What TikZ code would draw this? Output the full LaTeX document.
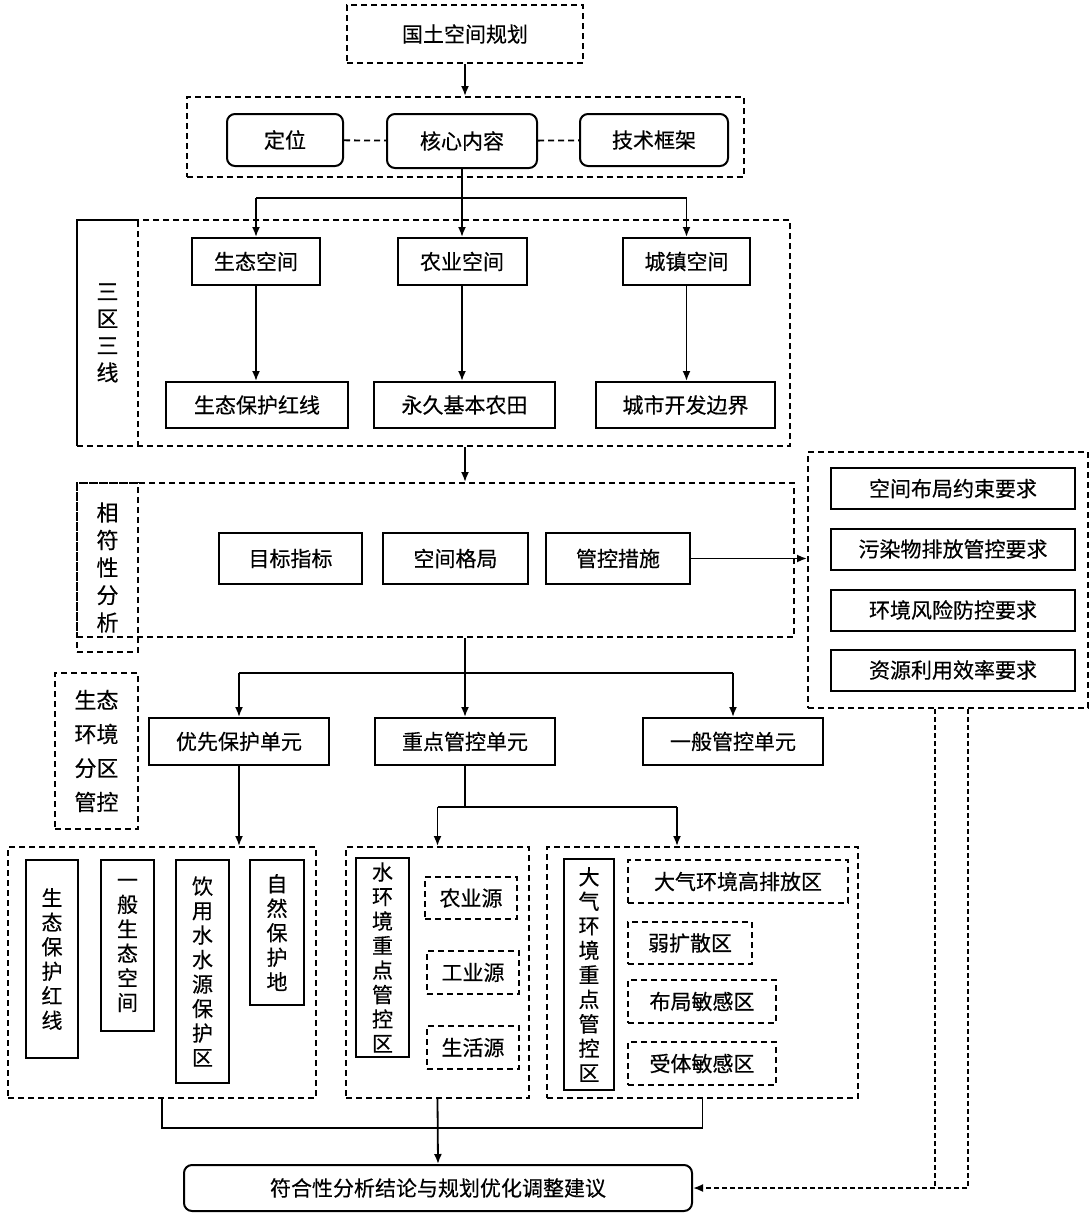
\documentclass[tikz,border=0pt]{standalone}
\usepackage{fontspec}
\setmainfont{Noto Sans CJK SC}[FakeBold=0.4]
\usetikzlibrary{arrows.meta}

\begin{document}
\begin{tikzpicture}[x=1pt,y=-1pt,
	every node/.style={font=\fontsize{21}{24}\selectfont, inner sep=0pt, align=center},
	box/.style={draw, line width=2pt, minimum height=47pt},
	rbox/.style={box, rounded corners=8pt},
	dbox/.style={draw, line width=2pt, dash pattern=on 6pt off 4pt},
	vbox/.style={draw, line width=2pt, anchor=north, font=\fontsize{21}{24.5}\selectfont},
	link/.style={line width=1.8pt},
	arr/.style={link, -{Latex[length=10pt,width=8pt]}}
	]
	\useasboundingbox (0,0) rectangle (1092,1221);

	\node[dbox, minimum width=236pt, minimum height=58pt] (plan) at (465,34) {国土空间规划};
	\node[dbox, minimum width=557pt, minimum height=80pt] (core) at (465,137) {};
	\node[rbox, minimum width=116pt, minimum height=52pt] (pos) at (285,140) {定位};
	\node[rbox, minimum width=150pt, minimum height=54pt] (cont) at (462,141) {核心内容};
	\node[rbox, minimum width=148pt, minimum height=52pt] (tech) at (654,140) {技术框架};

	\node[dbox, minimum width=713pt, minimum height=226pt] (zone) at (433.5,333) {};
	\node[dbox, minimum width=61pt, minimum height=226pt, font=\fontsize{22}{27}\selectfont] (zonel) at (107.5,333) {三\\区\\三\\线};
	\node[box, minimum width=128pt] (eco) at (256,261.5) {生态空间};
	\node[box, minimum width=129pt] (agr) at (462,261.5) {农业空间};
	\node[box, minimum width=127pt] (urb) at (686.5,261.5) {城镇空间};
	\node[box, minimum width=182pt, minimum height=46pt] (redl) at (257,405) {生态保护红线};
	\node[box, minimum width=181pt, minimum height=46pt] (farm) at (464.5,405) {永久基本农田};
	\node[box, minimum width=179pt, minimum height=46pt] (bound) at (685.5,405) {城市开发边界};

	\node[dbox, minimum width=717pt, minimum height=154pt] (fit) at (435.5,560) {};
	\node[dbox, minimum width=61pt, minimum height=169pt, font=\fontsize{22}{27.5}\selectfont] (fitl) at (107.5,567.5) {相\\符\\性\\分\\析};
	\node[box, minimum width=143pt, minimum height=51pt] (goal) at (290.5,558.5) {目标指标};
	\node[box, minimum width=145pt, minimum height=51pt] (layout) at (455.5,558.5) {空间格局};
	\node[box, minimum width=144pt, minimum height=51pt] (ctrl) at (618,558.5) {管控措施};

	\node[dbox, minimum width=280pt, minimum height=256pt] (req) at (948,580) {};
	\node[box, minimum width=244pt, minimum height=41pt] (req1) at (953,488.5) {空间布局约束要求};
	\node[box, minimum width=244pt, minimum height=41pt] (req2) at (953,549) {污染物排放管控要求};
	\node[box, minimum width=244pt, minimum height=41pt] (req3) at (953,610) {环境风险防控要求};
	\node[box, minimum width=244pt, minimum height=41pt] (req4) at (953,670) {资源利用效率要求};

	\node[dbox, minimum width=83pt, minimum height=156pt, font=\fontsize{22}{34}\selectfont] (envl) at (96.5,751) {生态\\环境\\分区\\管控};
	\node[box, minimum width=180pt] (prio) at (239,741.5) {优先保护单元};
	\node[box, minimum width=180pt] (key) at (465,741.5) {重点管控单元};
	\node[box, minimum width=180pt] (gen) at (733,741.5) {一般管控单元};

	\node[dbox, minimum width=308pt, minimum height=251pt] (grpa) at (162,972.5) {};
	\node[dbox, minimum width=183pt, minimum height=251pt] (grpb) at (437.5,972.5) {};
	\node[dbox, minimum width=311pt, minimum height=251pt] (grpc) at (702.5,972.5) {};

	\node[vbox, minimum width=52pt, minimum height=198pt] (a1) at (52,859) {生\\态\\保\\护\\红\\线};
	\node[vbox, minimum width=53pt, minimum height=171pt] (a2) at (127.5,859) {一\\般\\生\\态\\空\\间};
	\node[vbox, minimum width=53pt, minimum height=223pt] (a3) at (202.5,859) {饮\\用\\水\\水\\源\\保\\护\\区};
	\node[vbox, minimum width=54pt, minimum height=145pt] (a4) at (277,859) {自\\然\\保\\护\\地};

	\node[vbox, minimum width=53pt, minimum height=199pt] (b1) at (382.5,857) {水\\环\\境\\重\\点\\管\\控\\区};
	\node[dbox, minimum width=92pt, minimum height=42pt] (b2) at (471,898) {农业源};
	\node[dbox, minimum width=92pt, minimum height=43pt] (b3) at (473,972.5) {工业源};
	\node[dbox, minimum width=92pt, minimum height=43pt] (b4) at (473,1047.5) {生活源};

	\node[vbox, minimum width=50pt, minimum height=231pt] (c1) at (589,858) {大\\气\\环\\境\\重\\点\\管\\控\\区};
	\node[dbox, minimum width=220pt, minimum height=43pt] (c2) at (738,881.5) {大气环境高排放区};
	\node[dbox, minimum width=124pt, minimum height=42pt] (c3) at (690,943) {弱扩散区};
	\node[dbox, minimum width=148pt, minimum height=43pt] (c4) at (702,1001.5) {布局敏感区};
	\node[dbox, minimum width=148pt, minimum height=43pt] (c5) at (702,1063.5) {受体敏感区};

	\node[rbox, minimum width=508pt, minimum height=46pt] (conc) at (438,1188) {符合性分析结论与规划优化调整建议};

	\coordinate (bar3) at (462,198);
	\coordinate (bar5) at (465,673);
	\coordinate (bar6) at (465,807);
	\coordinate (bar6r) at (677,807);
	\coordinate (bar7) at (438,1128);
	\coordinate (dl) at (935,1188);
	\coordinate (dr) at (968,1188);

	\draw[arr] (plan) -- (core);
	\draw[link, dash pattern=on 6pt off 4pt] (pos) -- (cont);
	\draw[link, dash pattern=on 6pt off 4pt] (cont) -- (tech);
	\draw[arr] (cont.south) -- (agr.north);
	\draw[link] (bar3 -| eco) -- (bar3 -| urb);
	\draw[arr] (bar3 -| eco) -- (eco.north);
	\draw[arr] (bar3 -| urb) -- (urb.north);
	\draw[arr] (eco.south) -- (eco.south |- redl.north);
	\draw[arr] (agr.south) -- (agr.south |- farm.north);
	\draw[arr] (urb.south) -- (urb.south |- bound.north);
	\draw[arr] (zone.south -| plan) -- (fit.north -| plan);

	\draw[arr] (ctrl.east) -- (ctrl.east -| req.west);

	\draw[arr] (fit.south -| key) -- (key.north);
	\draw[link] (bar5 -| prio) -- (bar5 -| gen);
	\draw[arr] (bar5 -| prio) -- (prio.north);
	\draw[arr] (bar5 -| gen) -- (gen.north);

	\draw[arr] (prio.south) -- (prio.south |- grpa.north);
	\draw[link] (key.south) -- (bar6);
	\draw[link] (bar6 -| grpb) -- (bar6r);
	\draw[arr] (bar6 -| grpb) -- (grpb.north);
	\draw[arr] (bar6r) -- (bar6r |- grpc.north);

	\draw[link] (grpa.south) |- (bar7) -| (grpc.south);
	\draw[arr] (grpb.south) -- (conc.north);

	\draw[link, dash pattern=on 5pt off 3pt] (dl |- req.south) -- (dl);
	\draw[arr, dash pattern=on 5pt off 3pt] (dr |- req.south) -- (dr) -- (conc.east);
\end{tikzpicture}
\end{document}
